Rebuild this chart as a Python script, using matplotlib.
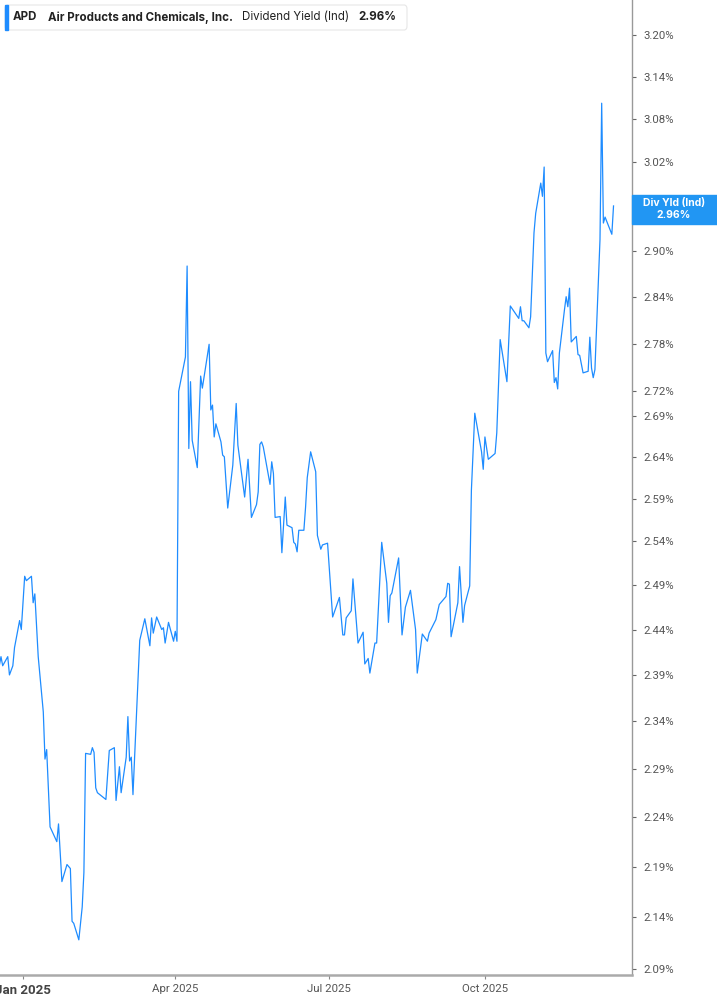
import numpy as np
import pandas as pd
import matplotlib
matplotlib.use('Agg')
import matplotlib.pyplot as plt
from matplotlib.patches import Rectangle, FancyBboxPatch
from matplotlib.ticker import FixedLocator, NullLocator, FuncFormatter

# APD dividend yield (indicated)
dates = [
    '2024-12-18', '2024-12-19', '2024-12-20', '2024-12-23', '2024-12-24', '2024-12-26', '2024-12-27', '2024-12-30', '2024-12-31',
    '2025-01-02', '2025-01-03', '2025-01-06', '2025-01-07', '2025-01-08', '2025-01-10', '2025-01-13', '2025-01-14', '2025-01-15',
    '2025-01-17', '2025-01-21', '2025-01-22', '2025-01-24', '2025-01-27', '2025-01-29', '2025-01-30', '2025-01-31',
    '2025-02-03', '2025-02-05', '2025-02-06', '2025-02-07', '2025-02-10', '2025-02-11', '2025-02-12', '2025-02-13', '2025-02-14',
    '2025-02-19', '2025-02-21', '2025-02-24', '2025-02-25', '2025-02-27', '2025-02-28',
    '2025-03-03', '2025-03-04', '2025-03-05', '2025-03-06', '2025-03-07', '2025-03-11', '2025-03-14', '2025-03-17', '2025-03-18',
    '2025-03-19', '2025-03-21', '2025-03-24', '2025-03-25', '2025-03-26', '2025-03-28', '2025-03-31',
    '2025-04-01', '2025-04-02', '2025-04-03', '2025-04-07', '2025-04-08', '2025-04-09', '2025-04-10', '2025-04-11', '2025-04-14',
    '2025-04-16', '2025-04-17', '2025-04-21', '2025-04-22', '2025-04-23', '2025-04-24', '2025-04-25', '2025-04-28', '2025-04-29', '2025-04-30',
    '2025-05-02', '2025-05-05', '2025-05-07', '2025-05-08', '2025-05-12', '2025-05-14', '2025-05-16', '2025-05-19', '2025-05-20',
    '2025-05-21', '2025-05-22', '2025-05-23', '2025-05-27', '2025-05-28', '2025-05-29', '2025-05-30',
    '2025-06-02', '2025-06-03', '2025-06-05', '2025-06-06', '2025-06-09', '2025-06-10', '2025-06-11', '2025-06-12', '2025-06-13',
    '2025-06-16', '2025-06-17', '2025-06-18', '2025-06-20', '2025-06-23', '2025-06-24', '2025-06-26', '2025-06-27', '2025-06-30',
    '2025-07-03', '2025-07-07', '2025-07-09', '2025-07-10', '2025-07-11', '2025-07-14', '2025-07-15', '2025-07-18', '2025-07-21',
    '2025-07-22', '2025-07-24', '2025-07-25', '2025-07-28', '2025-07-29',
    '2025-08-01', '2025-08-04', '2025-08-05', '2025-08-06', '2025-08-07', '2025-08-11', '2025-08-13', '2025-08-15', '2025-08-18',
    '2025-08-21', '2025-08-22', '2025-08-25', '2025-08-28', '2025-08-29',
    '2025-09-02', '2025-09-04', '2025-09-08', '2025-09-09', '2025-09-10', '2025-09-11', '2025-09-15', '2025-09-16', '2025-09-18',
    '2025-09-19', '2025-09-22', '2025-09-23', '2025-09-25', '2025-09-29', '2025-09-30',
    '2025-10-01', '2025-10-03', '2025-10-07', '2025-10-08', '2025-10-10', '2025-10-14', '2025-10-16', '2025-10-21', '2025-10-22',
    '2025-10-23', '2025-10-24', '2025-10-27', '2025-10-28', '2025-10-30', '2025-10-31',
    '2025-11-03', '2025-11-04', '2025-11-05', '2025-11-06', '2025-11-07', '2025-11-10', '2025-11-11', '2025-11-12', '2025-11-13',
    '2025-11-14', '2025-11-17', '2025-11-18', '2025-11-19', '2025-11-20', '2025-11-21', '2025-11-24', '2025-11-25', '2025-11-26', '2025-11-28',
    '2025-12-01', '2025-12-02', '2025-12-03', '2025-12-04', '2025-12-05', '2025-12-08', '2025-12-09', '2025-12-10', '2025-12-11',
    '2025-12-15', '2025-12-16',
]
yields = [
    2.40, 2.41, 2.40, 2.41, 2.39, 2.40, 2.42, 2.45, 2.44,
    2.50, 2.495, 2.50, 2.47, 2.48, 2.41, 2.35, 2.30, 2.31,
    2.23, 2.215, 2.233, 2.175, 2.192, 2.188, 2.136, 2.134,
    2.118, 2.150, 2.184, 2.306, 2.305, 2.312, 2.307, 2.270, 2.265,
    2.258, 2.309, 2.312, 2.257, 2.292, 2.265,
    2.302, 2.345, 2.298, 2.302, 2.263, 2.428, 2.452, 2.422, 2.453,
    2.436, 2.454, 2.440, 2.442, 2.425, 2.448, 2.427,
    2.438, 2.427, 2.720, 2.763, 2.880, 2.650, 2.732, 2.660, 2.627,
    2.739, 2.724, 2.779, 2.697, 2.703, 2.664, 2.680, 2.658, 2.642, 2.640,
    2.579, 2.630, 2.705, 2.654, 2.592, 2.637, 2.568, 2.583, 2.598,
    2.655, 2.658, 2.652, 2.607, 2.634, 2.620, 2.568,
    2.569, 2.527, 2.592, 2.559, 2.556, 2.539, 2.537, 2.528, 2.553,
    2.553, 2.580, 2.615, 2.646, 2.622, 2.547, 2.531, 2.536, 2.538,
    2.454, 2.476, 2.434, 2.434, 2.453, 2.461, 2.497, 2.425, 2.437,
    2.402, 2.408, 2.392, 2.425, 2.425,
    2.539, 2.492, 2.448, 2.478, 2.481, 2.521, 2.434, 2.465, 2.484,
    2.440, 2.392, 2.435, 2.427, 2.436,
    2.451, 2.468, 2.477, 2.492, 2.491, 2.432, 2.470, 2.511, 2.448,
    2.467, 2.489, 2.600, 2.693, 2.646, 2.625,
    2.664, 2.637, 2.644, 2.669, 2.785, 2.732, 2.828, 2.812, 2.827,
    2.809, 2.809, 2.800, 2.814, 2.924, 2.950,
    2.991, 2.973, 3.013, 2.768, 2.757, 2.771, 2.731, 2.737, 2.723,
    2.768, 2.823, 2.840, 2.827, 2.851, 2.782, 2.789, 2.766, 2.765, 2.743,
    2.745, 2.788, 2.749, 2.737, 2.747, 2.915, 3.102, 2.937, 2.945,
    2.922, 2.960,
]

ytick_vals = [2.09, 2.14, 2.19, 2.24, 2.29, 2.34, 2.39, 2.44, 2.49, 2.54, 2.59, 2.64,
              2.69, 2.72, 2.78, 2.84, 2.90, 3.02, 3.08, 3.14, 3.20]
xtick_dates = ['2025-01-01', '2025-04-01', '2025-07-01', '2025-10-01']
xtick_labels = ['Jan 2025', 'Apr 2025', 'Jul 2025', 'Oct 2025']

last_value = yields[-1]
W, H = 717, 1005
blue = '#1e8cff'

fig = plt.figure(figsize=(W / 100, H / 100), dpi=100)
ax = fig.add_axes([0, 30 / H, 632 / W, 975 / H])

ax.plot(pd.to_datetime(dates), yields, color=blue, lw=0.9)

ax.set_yscale('log')
ax.set_ylim(2.0843, 3.2515)
ax.set_xlim(pd.Timestamp('2024-12-18 10:00'), pd.Timestamp('2025-12-26 22:00'))

ax.yaxis.set_major_locator(FixedLocator(ytick_vals))
ax.yaxis.set_minor_locator(NullLocator())
ax.yaxis.set_major_formatter(FuncFormatter(lambda v, p: f'{v:.2f}%'))
ax.yaxis.tick_right()
ax.tick_params(axis='y', which='both', length=3, width=0.8, color='#666',
               pad=5, labelsize=8.2, labelcolor='#555', labelfontfamily='Roboto')

ax.set_xticks(pd.to_datetime(xtick_dates))
ax.set_xticklabels(xtick_labels)
ax.xaxis.set_minor_locator(NullLocator())
ax.tick_params(axis='x', length=3, width=0.8, color='#888', pad=3.5,
               labelsize=8.2, labelcolor='#555', labelfontfamily='Roboto')
jan = ax.get_xticklabels()[0]
jan.set_fontweight('bold')
jan.set_fontsize(9.5)
jan.set_color('#444')

for s in ['top', 'left']:
    ax.spines[s].set_visible(False)
ax.spines['right'].set_color('#999')
ax.spines['right'].set_linewidth(1.0)
ax.spines['bottom'].set_color('#aaa')
ax.spines['bottom'].set_linewidth(1.8)

# last value box on the right axis
fig.patches.append(Rectangle((632 / W, 1 - 224 / H), 85 / W, 29 / H,
                             transform=fig.transFigure, color='#2196f3', zorder=5))
fig.text(674 / W, 1 - 203 / H, 'Div Yld (Ind)', color='white', fontsize=7.5,
         fontweight='bold', ha='center', va='center', family='Inter', zorder=6)
fig.text(674 / W, 1 - 215 / H, f'{last_value:.2f}%', color='white', fontsize=7.5,
         fontweight='bold', ha='center', va='center', family='Inter', zorder=6)

# header legend
fig.patches.append(FancyBboxPatch((5 / W, 1 - 30 / H), 402 / W, 25 / H,
                                  boxstyle='round,pad=0,rounding_size=0.004',
                                  transform=fig.transFigure, fc='white', ec='#e6e6e6', lw=0.8, zorder=4))
fig.patches.append(Rectangle((5 / W, 1 - 30 / H), 3 / W, 25 / H,
                             transform=fig.transFigure, color=blue, zorder=5))
ty = 1 - 17.5 / H
fig.text(13 / W, ty, 'APD', fontsize=8.3, fontweight='bold', color='#222', va='center', family='Inter', zorder=6)
fig.text(48 / W, ty, 'Air Products and Chemicals, Inc.', fontsize=8.3, fontweight='bold', color='#222',
         va='center', family='Inter', zorder=6)
fig.text(242 / W, ty, 'Dividend Yield (Ind)', fontsize=8.3, color='#222', va='center', family='Inter', zorder=6)
fig.text(358 / W, ty, f'{last_value:.2f}%', fontsize=8.3, fontweight='bold', color='#222',
         va='center', family='Inter', zorder=6)

fig.savefig('out.png', dpi=100)
